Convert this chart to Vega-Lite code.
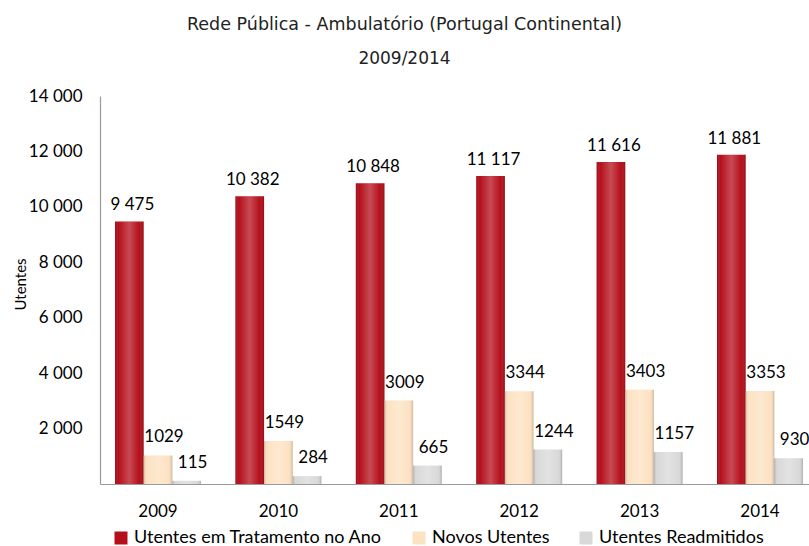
{
  "$schema": "https://vega.github.io/schema/vega-lite/v6.json",
  "width": 709,
  "height": 388,
  "autosize": {"type": "none"},
  "padding": {"left": 100, "top": 96, "right": 0, "bottom": 62},
  "background": "white",
  "title": {
    "text": "Rede Pública - Ambulatório (Portugal Continental)",
    "subtitle": "2009/2014",
    "anchor": "middle",
    "frame": "group",
    "dx": -50,
    "offset": 20,
    "font": "DejaVu Sans",
    "fontSize": 17.5,
    "fontWeight": "normal",
    "color": "#222222",
    "subtitleFont": "DejaVu Sans",
    "subtitleFontSize": 17,
    "subtitleColor": "#222222",
    "subtitlePadding": 18
  },
  "data": {
    "values": [
      {"year": "2009", "series": "Utentes em Tratamento no Ano", "value": 9475},
      {"year": "2009", "series": "Novos Utentes", "value": 1029},
      {"year": "2009", "series": "Utentes Readmitidos", "value": 115},
      {"year": "2010", "series": "Utentes em Tratamento no Ano", "value": 10382},
      {"year": "2010", "series": "Novos Utentes", "value": 1549},
      {"year": "2010", "series": "Utentes Readmitidos", "value": 284},
      {"year": "2011", "series": "Utentes em Tratamento no Ano", "value": 10848},
      {"year": "2011", "series": "Novos Utentes", "value": 3009},
      {"year": "2011", "series": "Utentes Readmitidos", "value": 665},
      {"year": "2012", "series": "Utentes em Tratamento no Ano", "value": 11117},
      {"year": "2012", "series": "Novos Utentes", "value": 3344},
      {"year": "2012", "series": "Utentes Readmitidos", "value": 1244},
      {"year": "2013", "series": "Utentes em Tratamento no Ano", "value": 11616},
      {"year": "2013", "series": "Novos Utentes", "value": 3403},
      {"year": "2013", "series": "Utentes Readmitidos", "value": 1157},
      {"year": "2014", "series": "Utentes em Tratamento no Ano", "value": 11881},
      {"year": "2014", "series": "Novos Utentes", "value": 3353},
      {"year": "2014", "series": "Utentes Readmitidos", "value": 930}
    ]
  },
  "encoding": {
    "x": {
      "field": "year",
      "type": "nominal",
      "scale": {"range": [0, 718], "paddingInner": 0.2857, "paddingOuter": 0.1246},
      "axis": {
        "title": null,
        "labelAngle": 0,
        "labelFont": "Lato",
        "labelFontSize": 17,
        "labelColor": "#000000",
        "labelPadding": 19,
        "ticks": false,
        "domainColor": "#9a9a9a",
        "domainWidth": 1.2
      }
    },
    "xOffset": {
      "field": "series",
      "type": "nominal",
      "sort": ["Utentes em Tratamento no Ano", "Novos Utentes", "Utentes Readmitidos"],
      "scale": {"paddingInner": 0, "paddingOuter": 0}
    },
    "y": {
      "field": "value",
      "type": "quantitative",
      "scale": {"domain": [0, 14000], "nice": false},
      "axis": {
        "title": "Utentes",
        "titleFont": "Lato",
        "titleFontSize": 15,
        "titleFontWeight": "normal",
        "titleColor": "#000000",
        "titleX": -80,
        "titleY": 188,
        "titleAngle": 270,
        "titleAlign": "center",
        "titleBaseline": "middle",
        "values": [0, 2000, 4000, 6000, 8000, 10000, 12000, 14000],
        "format": ",d",
        "labelExpr": "datum.value == 0 ? '' : datum.label",
        "labelFont": "Lato",
        "labelFontSize": 17,
        "labelColor": "#000000",
        "labelPadding": 18,
        "ticks": false,
        "grid": false,
        "domainColor": "#9a9a9a",
        "domainWidth": 1.2
      }
    }
  },
  "layer": [
    {
      "mark": {"type": "bar"},
      "encoding": {
        "color": {
          "field": "series",
          "type": "nominal",
          "sort": ["Utentes em Tratamento no Ano", "Novos Utentes", "Utentes Readmitidos"],
          "scale": {"range": ["#B50F1B", "#FDE2C2", "#D9D9D9"]},
          "legend": {
            "title": null,
            "orient": "none",
            "direction": "horizontal",
            "legendX": 12,
            "legendY": 433,
            "symbolType": "square",
            "symbolSize": 169,
            "symbolStrokeWidth": 0,
            "labelFont": "Lato",
            "labelFontSize": 18,
            "labelColor": "#000000",
            "labelOffset": 4,
            "columnPadding": 27,
            "labelLimit": 400
          }
        }
      }
    },
    {
      "mark": {
        "type": "bar",
        "fill": {
          "gradient": "linear",
          "x1": 0, "x2": 1, "y1": 0, "y2": 0,
          "stops": [
            {"offset": 0, "color": "rgba(0,0,0,0.2)"},
            {"offset": 0.12, "color": "rgba(255,255,255,0)"},
            {"offset": 0.5, "color": "rgba(255,255,255,0.25)"},
            {"offset": 0.85, "color": "rgba(255,255,255,0)"},
            {"offset": 1, "color": "rgba(0,0,0,0.2)"}
          ]
        }
      }
    },
    {
      "transform": [{"filter": "datum.series == 'Utentes em Tratamento no Ano'"}],
      "mark": {"type": "text", "baseline": "bottom", "dx": 3, "dy": -7, "font": "Lato", "fontSize": 17, "color": "#000000"},
      "encoding": {"text": {"field": "value", "type": "quantitative", "format": ",d"}}
    },
    {
      "transform": [{"filter": "datum.series != 'Utentes em Tratamento no Ano'"}],
      "mark": {"type": "text", "baseline": "bottom", "dx": 6, "dy": -9, "font": "Lato", "fontSize": 17, "color": "#000000"},
      "encoding": {"text": {"field": "value", "type": "quantitative", "format": "d"}}
    }
  ],
  "config": {
    "view": {"stroke": null},
    "locale": {
      "number": {"decimal": ",", "thousands": " ", "grouping": [3], "currency": ["", " €"]}
    }
  }
}
